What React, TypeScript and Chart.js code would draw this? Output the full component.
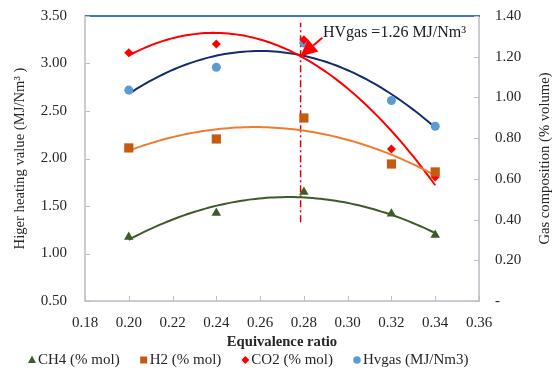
import React, { useEffect, useRef } from "react";
import { Chart, registerables } from "chart.js";

Chart.register(...registerables);

// ---------- data ----------
const ratios = [0.2, 0.24, 0.28, 0.32, 0.34];
const ch4 = [0.314, 0.432, 0.536, 0.428, 0.324]; // right axis
const h2 = [0.752, 0.796, 0.899, 0.673, 0.634]; // right axis
const co2 = [1.219, 1.263, 1.283, 0.747, 0.609]; // right axis
const hvgas = [2.72, 2.96, 3.216, 2.61, 2.34]; // left axis

const seriesNames = ["CH4 (% mol)", "H2 (% mol)", "CO2 (% mol)", "Hvgas (MJ/Nm3)"];
const seriesColors = ["#3D5C28", "#C55A11", "#FF0000", "#5B9BD5"];
const trendColors = ["#3D5C28", "#ED7D31", "#FF0000", "#132C6B"];
const seriesStyles = ["triangle", "rect", "rectRot", "circle"];

const xMin = 0.18, xMax = 0.36, xStep = 0.02;
const leftMin = 0.5, leftMax = 3.5, leftStep = 0.5;
const rightMin = 0, rightMax = 1.4, rightStep = 0.2;

const markerLineX = [0.2785, 0.2785];
const markerLineY = [1.33, 3.43];

const annotationText = "HVgas =1.26 MJ/Nm³";
const annotationTextAt = [0.2887, 3.32];
const arrowTail = [0.2884, 3.27];
const arrowTip = [0.2783, 3.075];

const xTitle = "Equivalence ratio";
const leftTitle = "Higer heating value (MJ/Nm³ )";
const rightTitle = "Gas composition (% volume)";

const FONT = "'Liberation Serif', 'Times New Roman', serif";

// quadratic least-squares trendline (as Excel's polynomial order 2)
function quadTrend(xs: number[], ys: number[]) {
  const n = xs.length;
  const m = xs.reduce((a, b) => a + b, 0) / n;
  let s0 = n, s1 = 0, s2 = 0, s3 = 0, s4 = 0, t0 = 0, t1 = 0, t2 = 0;
  for (let i = 0; i < n; i++) {
    const t = xs[i] - m;
    s1 += t; s2 += t * t; s3 += t * t * t; s4 += t * t * t * t;
    t0 += ys[i]; t1 += t * ys[i]; t2 += t * t * ys[i];
  }
  const A = [[s0, s1, s2], [s1, s2, s3], [s2, s3, s4]];
  const B = [t0, t1, t2];
  for (let i = 0; i < 3; i++) {
    for (let j = i + 1; j < 3; j++) {
      const f = A[j][i] / A[i][i];
      for (let k = i; k < 3; k++) A[j][k] -= f * A[i][k];
      B[j] -= f * B[i];
    }
  }
  const c = [0, 0, 0];
  for (let i = 2; i >= 0; i--) {
    let s = B[i];
    for (let k = i + 1; k < 3; k++) s -= A[i][k] * c[k];
    c[i] = s / A[i][i];
  }
  const pts: { x: number; y: number }[] = [];
  const N = 80;
  const x0 = xs[0], x1 = xs[n - 1];
  for (let i = 0; i <= N; i++) {
    const x = x0 + ((x1 - x0) * i) / N;
    const t = x - m;
    pts.push({ x, y: c[0] + c[1] * t + c[2] * t * t });
  }
  return pts;
}

const decorPlugin = {
  id: "decor",
  afterDraw(chart: any) {
    const { ctx, chartArea: ca, scales } = chart;
    const sx = scales.x, sy = scales.y, sy1 = scales.y1;
    ctx.save();
    // top blue line
    ctx.strokeStyle = "#4472C4";
    ctx.lineWidth = 2;
    const yt = sy.getPixelForValue(leftMax);
    ctx.beginPath();
    ctx.moveTo(ca.left, yt);
    ctx.lineTo(ca.right + 1, yt);
    ctx.stroke();

    // inner tick marks
    ctx.strokeStyle = "#BFBFBF";
    ctx.lineWidth = 1;
    ctx.beginPath();
    sx.ticks.forEach((t: any) => {
      const px = Math.round(sx.getPixelForValue(t.value)) + 0.5;
      ctx.moveTo(px, ca.bottom);
      ctx.lineTo(px, ca.bottom - 5);
    });
    sy.ticks.forEach((t: any) => {
      const py = Math.round(sy.getPixelForValue(t.value)) + 0.5;
      ctx.moveTo(ca.left, py);
      ctx.lineTo(ca.left + 5, py);
    });
    sy1.ticks.forEach((t: any) => {
      const py = Math.round(sy1.getPixelForValue(t.value)) + 0.5;
      ctx.moveTo(ca.right, py);
      ctx.lineTo(ca.right - 5, py);
    });
    ctx.stroke();

    // right axis title (reads bottom-to-top)
    ctx.fillStyle = "#262626";
    ctx.font = `14.67px ${FONT}`;
    ctx.textAlign = "center";
    ctx.textBaseline = "middle";
    ctx.save();
    ctx.translate(545, (ca.top + ca.bottom) / 2);
    ctx.rotate(-Math.PI / 2);
    ctx.fillText(rightTitle, 0, 0);
    ctx.restore();

    // annotation arrow
    const tx = sx.getPixelForValue(arrowTail[0]);
    const ty = sy.getPixelForValue(arrowTail[1]);
    const hx = sx.getPixelForValue(arrowTip[0]);
    const hy = sy.getPixelForValue(arrowTip[1]);
    const ang = Math.atan2(hy - ty, hx - tx);
    const L = 17, W = 8;
    const bx = hx - L * Math.cos(ang), by = hy - L * Math.sin(ang);
    ctx.strokeStyle = "#FF0000";
    ctx.fillStyle = "#FF0000";
    ctx.lineWidth = 2;
    ctx.beginPath();
    ctx.moveTo(tx, ty);
    ctx.lineTo(bx, by);
    ctx.stroke();
    ctx.beginPath();
    ctx.moveTo(hx, hy);
    ctx.lineTo(bx + W * Math.sin(ang), by - W * Math.cos(ang));
    ctx.lineTo(bx - W * Math.sin(ang), by + W * Math.cos(ang));
    ctx.closePath();
    ctx.fill();

    // annotation text
    ctx.fillStyle = "#1a1a1a";
    ctx.font = `16px ${FONT}`;
    ctx.textAlign = "left";
    ctx.textBaseline = "middle";
    ctx.fillText(
      annotationText,
      sx.getPixelForValue(annotationTextAt[0]),
      sy.getPixelForValue(annotationTextAt[1])
    );

    // legend
    ctx.font = `15px ${FONT}`;
    ctx.textBaseline = "middle";
    let cx = 28;
    const cy = 360;
    for (let i = 0; i < seriesNames.length; i++) {
      ctx.fillStyle = seriesColors[i];
      const mx = cx + 4;
      const st = seriesStyles[i];
      ctx.beginPath();
      if (st === "triangle") {
        ctx.moveTo(mx, cy - 4.5);
        ctx.lineTo(mx + 4, cy + 3);
        ctx.lineTo(mx - 4, cy + 3);
        ctx.closePath();
      } else if (st === "rect") {
        ctx.rect(mx - 3.5, cy - 3.5, 7, 7);
      } else if (st === "rectRot") {
        ctx.moveTo(mx, cy - 4);
        ctx.lineTo(mx + 4, cy);
        ctx.lineTo(mx, cy + 4);
        ctx.lineTo(mx - 4, cy);
        ctx.closePath();
      } else {
        ctx.arc(mx, cy, 3.8, 0, Math.PI * 2);
      }
      ctx.fill();
      ctx.fillStyle = "#262626";
      ctx.fillText(seriesNames[i], cx + 10, cy);
      cx += 10 + ctx.measureText(seriesNames[i]).width + 20;
    }
    ctx.restore();
  },
};

export default function App() {
  const ref = useRef<HTMLCanvasElement | null>(null);

  useEffect(() => {
    if (!ref.current) return;
    const pt = (ys: number[]) => ratios.map((x, i) => ({ x, y: ys[i] }));
    const pointSets = [ch4, h2, co2, hvgas];
    const axisIds = ["y1", "y1", "y1", "y"];
    const radii = [5.5, 6.5, 4.5, 4.5];

    const datasets: any[] = [];
    pointSets.forEach((ys, i) => {
      datasets.push({
        label: seriesNames[i],
        data: pt(ys),
        yAxisID: axisIds[i],
        showLine: false,
        pointStyle: seriesStyles[i],
        pointRadius: radii[i],
        pointBackgroundColor: seriesColors[i],
        pointBorderColor: seriesColors[i],
        pointBorderWidth: 0,
        backgroundColor: seriesColors[i],
        borderColor: seriesColors[i],
      });
    });
    pointSets.forEach((ys, i) => {
      datasets.push({
        label: seriesNames[i] + " trend",
        data: quadTrend(ratios, ys),
        yAxisID: axisIds[i],
        showLine: true,
        pointRadius: 0,
        borderColor: trendColors[i],
        borderWidth: 2,
        tension: 0,
      });
    });
    datasets.push({
      label: "marker",
      data: markerLineX.map((x, i) => ({ x, y: markerLineY[i] })),
      yAxisID: "y",
      showLine: true,
      pointRadius: 0,
      borderColor: "#E00000",
      borderWidth: 1.5,
      borderDash: [7, 3, 2, 3],
    });

    const tickFont = { family: FONT, size: 15 };
    const hidden = "rgba(0,0,0,0)";
    const chart = new Chart(ref.current, {
      type: "scatter",
      data: { datasets },
      plugins: [decorPlugin],
      options: {
        animation: false,
        responsive: false,
        devicePixelRatio: 1,
        layout: { padding: { top: 16, bottom: 21, left: 0, right: 0 } },
        plugins: { legend: { display: false }, tooltip: { enabled: false } },
        scales: {
          x: {
            type: "linear",
            min: xMin,
            max: xMax,
            ticks: {
              stepSize: xStep,
              font: tickFont,
              color: "#262626",
              padding: 13,
              maxRotation: 0,
              callback: (v: any) => Number(v).toFixed(2),
            },
            grid: { display: true, drawOnChartArea: false, drawTicks: false },
            border: { display: true, color: "#C8CCD2", width: 2 },
            title: {
              display: true,
              text: xTitle,
              font: { family: FONT, size: 14.67, weight: "bold" },
              color: "#262626",
              padding: { top: 0, bottom: 0 },
            },
            afterFit: (s: any) => {
              s.height = 50;
            },
          },
          y: {
            type: "linear",
            position: "left",
            min: leftMin,
            max: leftMax,
            ticks: {
              stepSize: leftStep,
              font: tickFont,
              color: "#262626",
              padding: 0,
              callback: (v: any) => Number(v).toFixed(2),
            },
            grid: {
              display: true,
              drawOnChartArea: false,
              drawTicks: true,
              tickLength: 18,
              tickColor: hidden,
            },
            border: { display: true, color: "#C8CCD2", width: 2 },
            title: {
              display: true,
              text: leftTitle,
              font: { family: FONT, size: 14.67 },
              color: "#262626",
              padding: { top: 11, bottom: 0 },
            },
            afterFit: (s: any) => {
              s.width = 85;
            },
          },
          y1: {
            type: "linear",
            position: "right",
            min: rightMin,
            max: rightMax,
            ticks: {
              stepSize: rightStep,
              font: tickFont,
              color: "#262626",
              padding: 0,
              callback: (v: any) => (Number(v) === 0 ? "-" : Number(v).toFixed(2)),
            },
            grid: {
              display: true,
              drawOnChartArea: false,
              drawTicks: true,
              tickLength: 16,
              tickColor: hidden,
            },
            border: { display: true, color: "#C8CCD2", width: 2 },
            afterFit: (s: any) => {
              s.width = 81;
            },
          },
        },
      } as any,
    });
    return () => chart.destroy();
  }, []);

  return (
    <div style={{ position: "absolute", left: 0, top: 0, width: 560, height: 372, background: "#fff" }}>
      <canvas ref={ref} width={560} height={372} style={{ width: 560, height: 372, display: "block" }} />
    </div>
  );
}
